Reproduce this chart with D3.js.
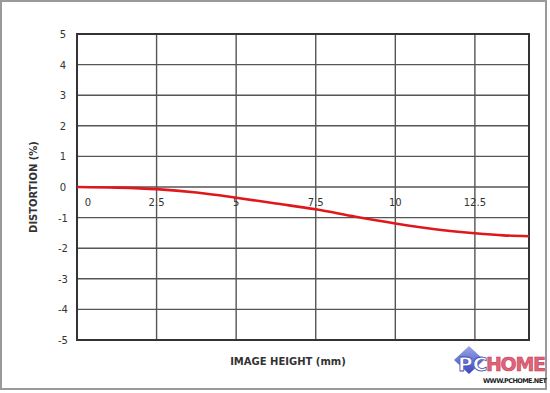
<!DOCTYPE html>
<html lang="en">
<head>
    <meta charset="UTF-8">
    <title>Distortion</title>
    <script src="https://d3js.org/d3.v7.min.js"></script>
    <style>
        body { margin: 0; background: #fff; }
        text { font-family: "DejaVu Sans", sans-serif; fill: #333; }
        .grid line { stroke: #555; stroke-width: 1.4; }
        .curve { fill: none; stroke: #e0181c; stroke-width: 2.6; }
    </style>
</head>
<body>
    <script>
        // image height (mm) vs distortion (%)
        var heights = [0, 1.25, 2.5, 3.75, 5, 6.25, 7.5, 8.75, 10, 11.25, 12.5, 13.4, 14.2];
        var distortion = [0, -0.02, -0.07, -0.18, -0.35, -0.54, -0.73, -0.97, -1.19, -1.38, -1.51, -1.58, -1.61];
        var xTicks = [0, 2.5, 5, 7.5, 10, 12.5];
        var yTicks = [5, 4, 3, 2, 1, 0, -1, -2, -3, -4, -5];

        var W = 550, H = 393;
        var pLeft = 77, pRight = 529, pTop = 34, pBottom = 340;

        var svg = d3.select("body").append("svg").attr("width", W).attr("height", H);

        // outer frame
        svg.append("rect").attr("x", 1).attr("y", 1).attr("width", 545).attr("height", 388)
            .attr("fill", "#fff").attr("stroke", "#9a9a9a").attr("stroke-width", 2);

        var x = d3.scaleLinear().domain([0, 14.2]).range([pLeft, pRight]);
        var y = d3.scaleLinear().domain([-5, 5]).range([pBottom, pTop]);

        // grid
        var grid = svg.append("g").attr("class", "grid");
        grid.selectAll(".h").data(yTicks).enter().append("line")
            .attr("x1", pLeft).attr("x2", pRight)
            .attr("y1", function (d) { return y(d); }).attr("y2", function (d) { return y(d); });
        grid.selectAll(".v").data(xTicks).enter().append("line")
            .attr("y1", pTop).attr("y2", pBottom)
            .attr("x1", function (d) { return x(d); }).attr("x2", function (d) { return x(d); });

        // plot frame
        svg.append("rect").attr("x", pLeft).attr("y", pTop).attr("width", pRight - pLeft).attr("height", pBottom - pTop)
            .attr("fill", "none").attr("stroke", "#333").attr("stroke-width", 2);

        // y tick labels
        svg.append("g").selectAll("text").data(yTicks).enter().append("text")
            .attr("x", 63).attr("y", function (d) { return y(d) + 4; })
            .attr("text-anchor", "middle").attr("font-size", 10)
            .text(function (d) { return d; });

        // x tick labels sit inside the plot, under the zero line
        svg.append("g").selectAll("text").data(xTicks).enter().append("text")
            .attr("x", function (d) { return d === 0 ? x(d) + 11 : x(d); })
            .attr("y", y(0) + 19)
            .attr("text-anchor", "middle").attr("font-size", 10)
            .text(function (d) { return d; });

        // curve
        var line = d3.line()
            .x(function (d, i) { return x(heights[i]); })
            .y(function (d) { return y(d); })
            .curve(d3.curveMonotoneX);
        svg.append("path").attr("class", "curve").attr("d", line(distortion));

        // axis titles
        svg.append("text").attr("x", 288).attr("y", 365).attr("text-anchor", "middle")
            .attr("font-size", 10).attr("font-weight", "bold").text("IMAGE HEIGHT (mm)");
        svg.append("text").attr("transform", "translate(37,187) rotate(-90)").attr("text-anchor", "middle")
            .attr("font-size", 10).attr("font-weight", "bold").text("DISTORTION (%)");

        // watermark
        var logo = svg.append("g");
        var grad = svg.append("defs").append("linearGradient").attr("id", "dg")
            .attr("x1", 0).attr("y1", 0).attr("x2", 0).attr("y2", 1);
        grad.append("stop").attr("offset", 0).attr("stop-color", "#9aa6e8");
        grad.append("stop").attr("offset", 1).attr("stop-color", "#3a48b8");
        logo.append("path").attr("d", "M454,360 L469,346 L484,360 L469,374 Z").attr("fill", "url(#dg)");
        logo.append("text").attr("x", 458).attr("y", 371).attr("font-size", 20).attr("font-weight", "bold")
            .attr("font-family", "DejaVu Sans Condensed").style("fill", "#fff")
            .attr("stroke", "#4050b8").attr("stroke-width", 0.8).text("PC");
        logo.append("text").attr("x", 486).attr("y", 371).attr("font-size", 19).attr("font-weight", "bold")
            .attr("font-family", "DejaVu Sans Condensed").attr("textLength", 60).style("fill", "#e06478")
            .attr("stroke", "#c03050").attr("stroke-width", 0.5).text("HOME");
        logo.append("text").attr("x", 483).attr("y", 383).attr("font-size", 6.5).attr("font-weight", "bold")
            .attr("textLength", 64).style("fill", "#222").text("WWW.PCHOME.NET");
    </script>
</body>
</html>
